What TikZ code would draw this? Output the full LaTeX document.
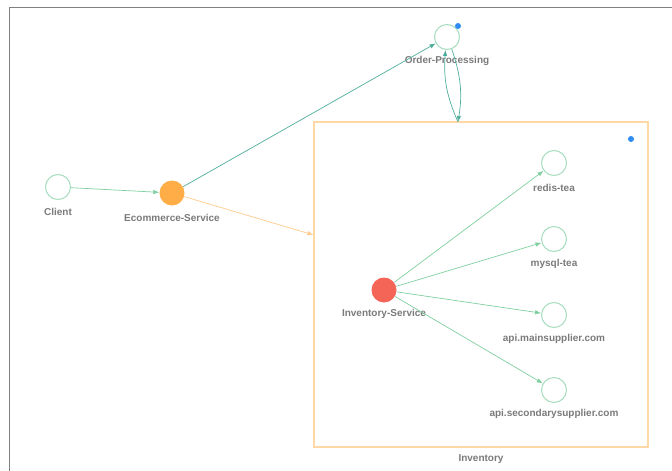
\documentclass[tikz,border=0pt]{standalone}
\usepackage{fontspec}
\setmainfont{Liberation Sans}
\usepackage{tikz}
\usetikzlibrary{positioning, arrows.meta}
\definecolor{ringcol}{HTML}{A6DDBE}
\definecolor{greenlink}{HTML}{7FCFA0}
\definecolor{teallink}{HTML}{4FAE9B}
\definecolor{ecomcol}{HTML}{FFAD47}
\definecolor{invcol}{HTML}{F46457}
\definecolor{groupcol}{HTML}{FFD8A6}
\definecolor{orangelink}{HTML}{FFCB8C}
\definecolor{dotcol}{HTML}{2F8CF0}
\definecolor{labelcol}{HTML}{7A7A7A}
\definecolor{framecol}{HTML}{808080}

\begin{document}
\begin{tikzpicture}[
    x=1pt, y=-1pt,
    svc/.style={
        circle,
        draw=ringcol,
        line width=1pt,
        fill=white,
        minimum size=25pt,
        inner sep=0pt,
    },
    busy/.style={
        circle,
        minimum size=25pt,
        inner sep=0pt,
    },
    lbl/.style={
        font=\fontsize{10}{12}\selectfont\bfseries,
        text=labelcol,
        inner sep=1pt,
    },
    group/.style={
        rectangle,
        draw=groupcol,
        line width=1.2pt,
        minimum width=334pt,
        minimum height=325pt,
    },
    marker/.style={circle, fill=dotcol, minimum size=6pt, inner sep=0pt},
    link/.style={-{Latex[length=6pt, width=4.5pt]}, line width=0.7pt, color=greenlink},
    tlink/.style={-{Latex[length=6pt, width=4.5pt]}, line width=0.7pt, color=teallink},
    olink/.style={-{Latex[length=6pt, width=4.5pt]}, line width=0.7pt, color=orangelink},
]

\useasboundingbox (0,0) rectangle (672,471);
\draw[framecol, line width=1.5pt] (672,7.5) -- (9.5,7.5) -- (9.5,471);

\node[group] (inventory) at (481,284.5) {};
\node[lbl] (inventory-l) at (481,459) {Inventory};
\node[marker] (inventory-dot) at (631,139) {};

\node[svc] (client) at (58,187) {};
\node[lbl] (client-l) at (58,212) {Client};

\node[busy, fill=ecomcol] (ecommerce) at (172,193) {};
\node[lbl] (ecommerce-l) at (172,218) {Ecommerce-Service};

\node[svc] (order) at (447,37) {};
\node[lbl] (order-l) at (447,61) {Order-Processing};
\node[marker] (order-dot) at (458,26) {};

\node[busy, fill=invcol] (invservice) at (384,290) {};
\node[lbl] (invservice-l) at (384,314) {Inventory-Service};

\node[svc] (redis)     at (554,163) {};
\node[svc] (mysql)     at (554,239) {};
\node[svc] (mainsup)   at (554,315) {};
\node[svc] (secondsup) at (554,390) {};
\node[lbl] (redis-l)     at (554,188) {redis-tea};
\node[lbl] (mysql-l)     at (554,264) {mysql-tea};
\node[lbl] (mainsup-l)   at (554,339) {api.mainsupplier.com};
\node[lbl] (secondsup-l) at (554,414) {api.secondarysupplier.com};

\coordinate (invtop) at (458,122);

\draw[link]  (client)    -- (ecommerce);
\draw[tlink] (ecommerce) -- (order);
\draw[olink] (ecommerce) -- (inventory);
\draw[tlink] (order)  to[bend left=14] (invtop);
\draw[tlink] (invtop) to[bend left=14] (order);

\draw[link] (invservice) -- (redis);
\draw[link] (invservice) -- (mysql);
\draw[link] (invservice) -- (mainsup);
\draw[link] (invservice) -- (secondsup);

\end{tikzpicture}
\end{document}
